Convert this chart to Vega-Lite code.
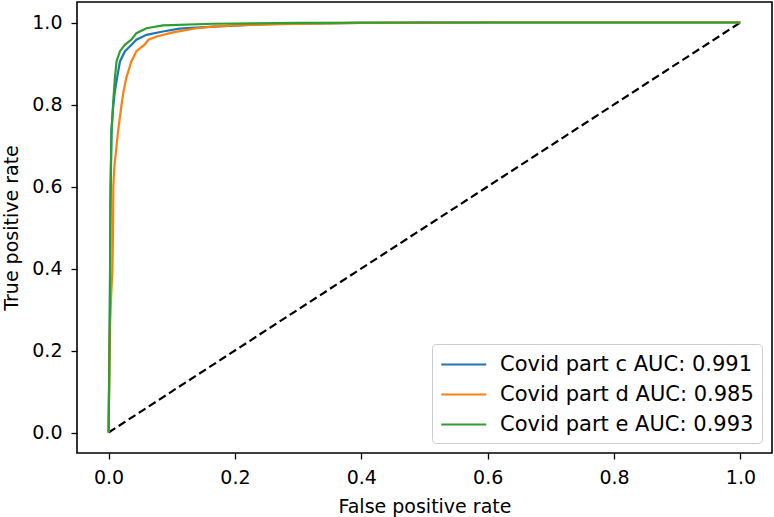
{
  "$schema": "https://vega.github.io/schema/vega-lite/v6.json",
  "width": 695,
  "height": 451,
  "autosize": {"type": "none"},
  "padding": {"left": 77, "top": 2, "right": 2, "bottom": 64},
  "background": "white",
  "config": {
    "font": "DejaVu Sans",
    "view": {"stroke": "black", "strokeWidth": 1.6},
    "axis": {
      "grid": false,
      "domain": false,
      "tickColor": "black",
      "tickSize": 6,
      "tickWidth": 1.3,
      "labelFontSize": 19,
      "labelColor": "black",
      "labelPadding": 9,
      "titleFontSize": 19,
      "titleFontWeight": "normal",
      "titleColor": "black"
    }
  },
  "datasets": {
    "roc": [
      {"series": "Covid part c AUC: 0.991", "fpr": 0, "tpr": 0},
      {"series": "Covid part c AUC: 0.991", "fpr": 0.002, "tpr": 0.3},
      {"series": "Covid part c AUC: 0.991", "fpr": 0.003, "tpr": 0.55},
      {"series": "Covid part c AUC: 0.991", "fpr": 0.0045, "tpr": 0.735},
      {"series": "Covid part c AUC: 0.991", "fpr": 0.007, "tpr": 0.79},
      {"series": "Covid part c AUC: 0.991", "fpr": 0.01, "tpr": 0.833},
      {"series": "Covid part c AUC: 0.991", "fpr": 0.014, "tpr": 0.87},
      {"series": "Covid part c AUC: 0.991", "fpr": 0.018, "tpr": 0.905},
      {"series": "Covid part c AUC: 0.991", "fpr": 0.026, "tpr": 0.93},
      {"series": "Covid part c AUC: 0.991", "fpr": 0.034, "tpr": 0.942},
      {"series": "Covid part c AUC: 0.991", "fpr": 0.044, "tpr": 0.958},
      {"series": "Covid part c AUC: 0.991", "fpr": 0.06, "tpr": 0.97},
      {"series": "Covid part c AUC: 0.991", "fpr": 0.086, "tpr": 0.978},
      {"series": "Covid part c AUC: 0.991", "fpr": 0.112, "tpr": 0.985},
      {"series": "Covid part c AUC: 0.991", "fpr": 0.165, "tpr": 0.99},
      {"series": "Covid part c AUC: 0.991", "fpr": 0.25, "tpr": 0.996},
      {"series": "Covid part c AUC: 0.991", "fpr": 0.4, "tpr": 0.999},
      {"series": "Covid part c AUC: 0.991", "fpr": 0.6, "tpr": 1.0},
      {"series": "Covid part c AUC: 0.991", "fpr": 1.0, "tpr": 1.0},
      {"series": "Covid part d AUC: 0.985", "fpr": 0, "tpr": 0},
      {"series": "Covid part d AUC: 0.985", "fpr": 0.002, "tpr": 0.25},
      {"series": "Covid part d AUC: 0.985", "fpr": 0.004, "tpr": 0.33},
      {"series": "Covid part d AUC: 0.985", "fpr": 0.006, "tpr": 0.4},
      {"series": "Covid part d AUC: 0.985", "fpr": 0.007, "tpr": 0.485},
      {"series": "Covid part d AUC: 0.985", "fpr": 0.0075, "tpr": 0.6},
      {"series": "Covid part d AUC: 0.985", "fpr": 0.009, "tpr": 0.646},
      {"series": "Covid part d AUC: 0.985", "fpr": 0.012, "tpr": 0.69},
      {"series": "Covid part d AUC: 0.985", "fpr": 0.015, "tpr": 0.735},
      {"series": "Covid part d AUC: 0.985", "fpr": 0.018, "tpr": 0.77},
      {"series": "Covid part d AUC: 0.985", "fpr": 0.0205, "tpr": 0.8},
      {"series": "Covid part d AUC: 0.985", "fpr": 0.024, "tpr": 0.835},
      {"series": "Covid part d AUC: 0.985", "fpr": 0.028, "tpr": 0.865},
      {"series": "Covid part d AUC: 0.985", "fpr": 0.036, "tpr": 0.905},
      {"series": "Covid part d AUC: 0.985", "fpr": 0.044, "tpr": 0.93},
      {"series": "Covid part d AUC: 0.985", "fpr": 0.057, "tpr": 0.946},
      {"series": "Covid part d AUC: 0.985", "fpr": 0.063, "tpr": 0.958},
      {"series": "Covid part d AUC: 0.985", "fpr": 0.076, "tpr": 0.966},
      {"series": "Covid part d AUC: 0.985", "fpr": 0.102, "tpr": 0.976},
      {"series": "Covid part d AUC: 0.985", "fpr": 0.139, "tpr": 0.986},
      {"series": "Covid part d AUC: 0.985", "fpr": 0.165, "tpr": 0.99},
      {"series": "Covid part d AUC: 0.985", "fpr": 0.2, "tpr": 0.993},
      {"series": "Covid part d AUC: 0.985", "fpr": 0.268, "tpr": 0.996},
      {"series": "Covid part d AUC: 0.985", "fpr": 0.4, "tpr": 0.999},
      {"series": "Covid part d AUC: 0.985", "fpr": 0.6, "tpr": 1.0},
      {"series": "Covid part d AUC: 0.985", "fpr": 1.0, "tpr": 1.0},
      {"series": "Covid part e AUC: 0.993", "fpr": 0, "tpr": 0},
      {"series": "Covid part e AUC: 0.993", "fpr": 0.002, "tpr": 0.3},
      {"series": "Covid part e AUC: 0.993", "fpr": 0.003, "tpr": 0.6},
      {"series": "Covid part e AUC: 0.993", "fpr": 0.0047, "tpr": 0.735},
      {"series": "Covid part e AUC: 0.993", "fpr": 0.0074, "tpr": 0.808},
      {"series": "Covid part e AUC: 0.993", "fpr": 0.01, "tpr": 0.865},
      {"series": "Covid part e AUC: 0.993", "fpr": 0.0126, "tpr": 0.905},
      {"series": "Covid part e AUC: 0.993", "fpr": 0.018, "tpr": 0.93},
      {"series": "Covid part e AUC: 0.993", "fpr": 0.026, "tpr": 0.946},
      {"series": "Covid part e AUC: 0.993", "fpr": 0.036, "tpr": 0.958},
      {"series": "Covid part e AUC: 0.993", "fpr": 0.044, "tpr": 0.974},
      {"series": "Covid part e AUC: 0.993", "fpr": 0.06, "tpr": 0.986},
      {"series": "Covid part e AUC: 0.993", "fpr": 0.086, "tpr": 0.993},
      {"series": "Covid part e AUC: 0.993", "fpr": 0.165, "tpr": 0.997},
      {"series": "Covid part e AUC: 0.993", "fpr": 0.3, "tpr": 0.999},
      {"series": "Covid part e AUC: 0.993", "fpr": 0.5, "tpr": 1.0},
      {"series": "Covid part e AUC: 0.993", "fpr": 1.0, "tpr": 1.0}
    ],
    "diag": [
      {"fpr": 0, "tpr": 0},
      {"fpr": 1, "tpr": 1}
    ]
  },
  "layer": [
    {
      "data": {"name": "diag"},
      "mark": {"type": "line", "color": "black", "strokeWidth": 2.2, "strokeDash": [8, 4], "clip": true},
      "encoding": {
        "x": {"field": "fpr", "type": "quantitative"},
        "y": {"field": "tpr", "type": "quantitative"}
      }
    },
    {
      "data": {"name": "roc"},
      "mark": {"type": "line", "strokeWidth": 2.2, "clip": true},
      "encoding": {
        "x": {
          "field": "fpr", "type": "quantitative",
          "scale": {"domain": [-0.05, 1.05], "nice": false, "zero": false},
          "axis": {"title": "False positive rate", "values": [0, 0.2, 0.4, 0.6, 0.8, 1.0], "format": ".1f", "titlePadding": 10}
        },
        "y": {
          "field": "tpr", "type": "quantitative",
          "scale": {"domain": [-0.05, 1.05], "nice": false, "zero": false},
          "axis": {"title": "True positive rate", "values": [0, 0.2, 0.4, 0.6, 0.8, 1.0], "format": ".1f", "titlePadding": 10}
        },
        "color": {
          "field": "series", "type": "nominal",
          "scale": {"range": ["#1f77b4", "#ff7f0e", "#2ca02c"]},
          "legend": {
            "title": null,
            "orient": "bottom-right",
            "offset": 10,
            "symbolType": "M-1,0H3",
            "symbolSize": 506,
            "symbolStrokeWidth": 2.2,
            "labelFontSize": 21,
            "labelLimit": 0,
            "labelColor": "black",
            "labelOffset": 35,
            "rowPadding": 7,
            "padding": 8,
            "fillColor": "white",
            "strokeColor": "#cccccc",
            "cornerRadius": 4
          }
        }
      }
    }
  ]
}
